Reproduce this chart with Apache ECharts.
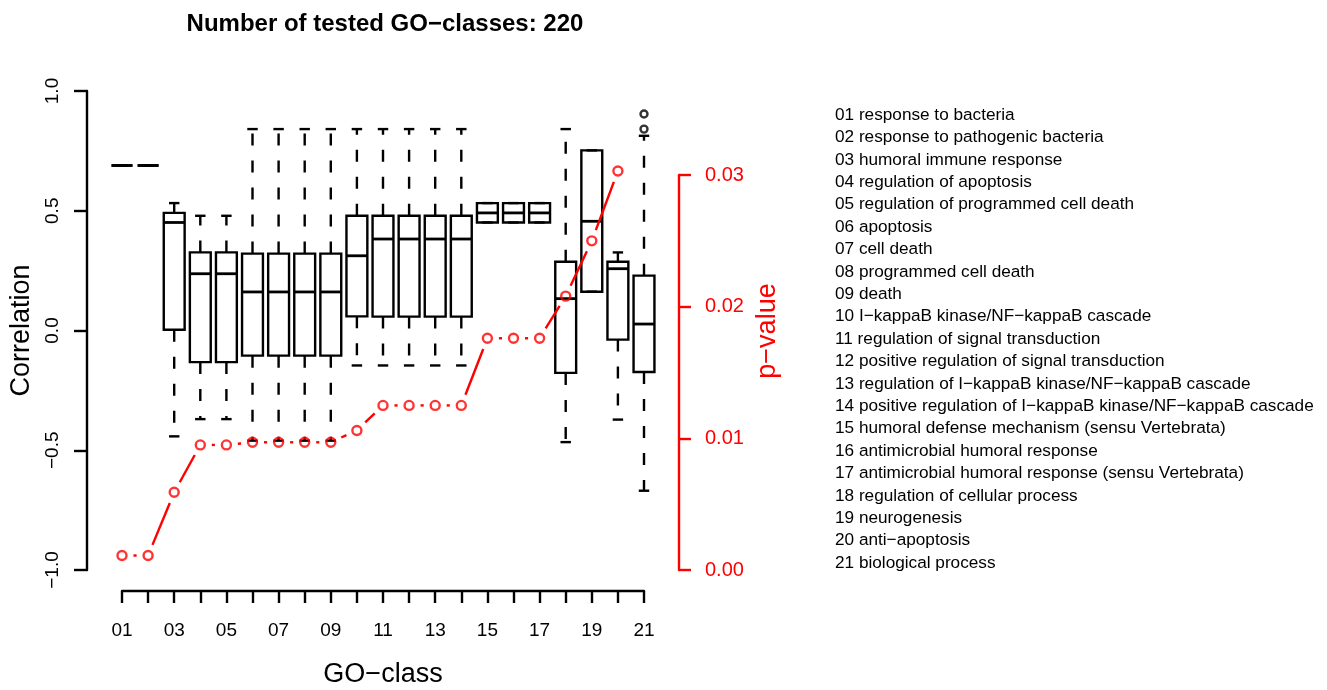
<!DOCTYPE html>
<html>
<head>
<meta charset="utf-8">
<script src="https://cdn.jsdelivr.net/npm/echarts@6/dist/echarts.min.js"></script>
<style>
html,body{margin:0;padding:0;background:#fff;}
#main{width:1327px;height:690px;}
</style>
</head>
<body>
<div id="main"></div>
<script>
// ---- data ----
const categories = ['01','02','03','04','05','06','07','08','09','10','11','12','13','14','15','16','17','18','19','20','21'];
const corrMin    = [0.689, 0.689, -0.442, -0.370, -0.370, -0.460, -0.460, -0.460, -0.460, -0.146, -0.146, -0.146, -0.146, -0.146, 0.451, 0.451, 0.451, -0.466, 0.162, -0.372, -0.669];
const corrQ1     = [0.689, 0.689,  0.003, -0.132, -0.132, -0.105, -0.105, -0.105, -0.105,  0.059,  0.058,  0.058,  0.058,  0.058, 0.451, 0.451, 0.451, -0.177, 0.162, -0.038, -0.173];
const corrMedian = [0.689, 0.689,  0.451,  0.237,  0.237,  0.161,  0.161,  0.161,  0.161,  0.312,  0.382,  0.382,  0.382,  0.382, 0.491, 0.491, 0.491,  0.133, 0.456,  0.258,  0.027];
const corrQ3     = [0.689, 0.689,  0.491,  0.326,  0.326,  0.321,  0.321,  0.321,  0.321,  0.479,  0.479,  0.479,  0.479,  0.479, 0.532, 0.532, 0.532,  0.287, 0.752,  0.287,  0.229];
const corrMax    = [0.689, 0.689,  0.532,  0.479,  0.479,  0.841,  0.841,  0.841,  0.841,  0.841,  0.841,  0.841,  0.841,  0.841, 0.532, 0.532, 0.532,  0.841, 0.752,  0.326,  0.813];
const outlierCats   = ['21', '21'];
const outlierValues = [0.904, 0.841];
const pValues = [0.0011, 0.0011, 0.0059, 0.0095, 0.0095, 0.0097, 0.0097, 0.0097, 0.0097, 0.0106, 0.0125, 0.0125, 0.0125, 0.0125, 0.0176, 0.0176, 0.0176, 0.0208, 0.0250, 0.0303, null];
const corrTicks = [-1.0, -0.5, 0.0, 0.5, 1.0];
const pTicks = [0.00, 0.01, 0.02, 0.03];
const goNames = [
 'response to bacteria',
 'response to pathogenic bacteria',
 'humoral immune response',
 'regulation of apoptosis',
 'regulation of programmed cell death',
 'apoptosis',
 'cell death',
 'programmed cell death',
 'death',
 'I\u2212kappaB kinase/NF\u2212kappaB cascade',
 'regulation of signal transduction',
 'positive regulation of signal transduction',
 'regulation of I\u2212kappaB kinase/NF\u2212kappaB cascade',
 'positive regulation of I\u2212kappaB kinase/NF\u2212kappaB cascade',
 'humoral defense mechanism (sensu Vertebrata)',
 'antimicrobial humoral response',
 'antimicrobial humoral response (sensu Vertebrata)',
 'regulation of cellular process',
 'neurogenesis',
 'anti\u2212apoptosis',
 'biological process'
];
const titleText = 'Number of tested GO\u2212classes: 220';
const pAxisTitle = 'p\u2212value';

// ---- build ----
const FONT = "'Liberation Sans', Arial, Helvetica, sans-serif";
const RED = '#ff0000';
const LW = 2.4;
const boxData = categories.map((c, i) => [i, corrMin[i], corrQ1[i], corrMedian[i], corrQ3[i], corrMax[i]]);
const outlierData = outlierCats.map((c, i) => [categories.indexOf(c), outlierValues[i]]);
const pPoints = [];
pValues.forEach((v, i) => { if (v !== null) pPoints.push([i, v]); });
const pSegs = [];
for (let i = 0; i < pValues.length - 1; i++) {
  if (pValues[i] !== null && pValues[i + 1] !== null) pSegs.push([i, pValues[i], pValues[i + 1]]);
}
const fmtMinus = s => s.replace('-', '\u2212');

function renderBox(params, api) {
  const idx = api.value(0);
  const mn = api.value(1), q1 = api.value(2), md = api.value(3), q3 = api.value(4), mx = api.value(5);
  const step = Math.abs(api.coord([1, 0])[0] - api.coord([0, 0])[0]);
  const hw = step * 0.4, chw = hw * 0.5;
  const x = api.coord([idx, md])[0];
  const yMn = api.coord([idx, mn])[1], yQ1 = api.coord([idx, q1])[1], yMd = api.coord([idx, md])[1];
  const yQ3 = api.coord([idx, q3])[1], yMx = api.coord([idx, mx])[1];
  const dashed = { stroke: '#000', lineWidth: LW, lineDash: [12, 15], fill: null };
  const solid = { stroke: '#000', lineWidth: LW, fill: null };
  const ch = [];
  if (yMx < yQ3 - 0.5) ch.push({ type: 'line', shape: { x1: x, y1: yQ3, x2: x, y2: yMx }, style: dashed });
  if (yMn > yQ1 + 0.5) ch.push({ type: 'line', shape: { x1: x, y1: yQ1, x2: x, y2: yMn }, style: dashed });
  ch.push({ type: 'line', shape: { x1: x - chw, y1: yMx, x2: x + chw, y2: yMx }, style: solid });
  ch.push({ type: 'line', shape: { x1: x - chw, y1: yMn, x2: x + chw, y2: yMn }, style: solid });
  ch.push({ type: 'rect', shape: { x: x - hw, y: yQ3, width: 2 * hw, height: yQ1 - yQ3 }, style: solid });
  ch.push({ type: 'line', shape: { x1: x - hw, y1: yMd, x2: x + hw, y2: yMd }, style: { stroke: '#000', lineWidth: 2.8 } });
  return { type: 'group', children: ch };
}

function renderSeg(params, api) {
  const i = api.value(0);
  const a = api.coord([i, api.value(1)]);
  const b = api.coord([i + 1, api.value(2)]);
  const dx = b[0] - a[0], dy = b[1] - a[1];
  const len = Math.sqrt(dx * dx + dy * dy);
  const gap = 11.5;
  if (len <= 2 * gap) return null;
  const ux = dx / len, uy = dy / len;
  return {
    type: 'line',
    shape: { x1: a[0] + ux * gap, y1: a[1] + uy * gap, x2: b[0] - ux * gap, y2: b[1] - uy * gap },
    style: { stroke: RED, lineWidth: LW }
  };
}

const graphics = goNames.map((n, i) => ({
  type: 'text',
  x: 835,
  y: 115 + i * 22.4,
  style: { text: categories[i] + ' ' + n, font: '17.2px ' + FONT, fill: '#000', align: 'left', verticalAlign: 'middle' }
}));
graphics.push({
  type: 'text', x: 768, y: 331, rotation: Math.PI / 2,
  style: { text: pAxisTitle, font: '27px ' + FONT, fill: RED, align: 'center', verticalAlign: 'middle' }
});

const chart = echarts.init(document.getElementById('main'), null, { renderer: 'canvas' });
chart.setOption({
  animation: false,
  backgroundColor: '#fff',
  textStyle: { fontFamily: FONT },
  title: {
    text: titleText,
    left: 380, top: 7, textAlign: 'center',
    textStyle: { fontFamily: FONT, fontWeight: 'bold', fontSize: 24, color: '#000' }
  },
  graphic: graphics,
  grid: [
    { left: 122, right: 683, top: 91, bottom: 120, outerBoundsMode: 'none', containLabel: false },
    { left: 122, right: 683, top: 175, bottom: 120, outerBoundsMode: 'none', containLabel: false }
  ],
  xAxis: [
    {
      type: 'category', gridIndex: 0, data: categories, boundaryGap: false, offset: 21,
      axisLine: { onZero: false, lineStyle: { color: '#000', width: LW } },
      axisTick: { interval: 0, length: 12, lineStyle: { color: '#000', width: LW } },
      axisLabel: { interval: 1, color: '#000', fontSize: 19, margin: 30, fontFamily: FONT },
      splitLine: { show: false },
      name: 'GO\u2212class', nameLocation: 'middle', nameGap: 70,
      nameTextStyle: { fontSize: 27, color: '#000', fontFamily: FONT }
    },
    { type: 'category', gridIndex: 1, data: categories, boundaryGap: false, show: false }
  ],
  yAxis: [
    {
      type: 'value', gridIndex: 0, position: 'left', offset: 35, min: corrTicks[0], max: corrTicks[corrTicks.length - 1], interval: 0.5,
      axisLine: { show: true, onZero: false, lineStyle: { color: '#000', width: LW } },
      axisTick: { show: true, length: 13, lineStyle: { color: '#000', width: LW } },
      axisLabel: { rotate: 90, color: '#000', fontSize: 19, margin: 25, fontFamily: FONT, formatter: v => fmtMinus(v.toFixed(1)) },
      splitLine: { show: false },
      name: 'Correlation', nameLocation: 'middle', nameRotate: 90, nameGap: 52,
      nameTextStyle: { fontSize: 27, color: '#000', fontFamily: FONT }
    },
    {
      type: 'value', gridIndex: 1, position: 'right', offset: 35, min: pTicks[0], max: pTicks[pTicks.length - 1], interval: 0.01,
      axisLine: { show: true, onZero: false, lineStyle: { color: RED, width: LW } },
      axisTick: { show: true, length: 12, lineStyle: { color: RED, width: LW } },
      axisLabel: { color: RED, fontSize: 20, margin: 26, fontFamily: FONT, formatter: v => v.toFixed(2) },
      splitLine: { show: false }
    }
  ],
  series: [
    {
      type: 'custom', name: 'box', xAxisIndex: 0, yAxisIndex: 0, data: boxData,
      renderItem: renderBox, encode: { x: 0, y: [1, 2, 3, 4, 5] }, z: 2, clip: false
    },
    {
      type: 'scatter', name: 'outliers', xAxisIndex: 0, yAxisIndex: 0, data: outlierData,
      symbol: 'circle', symbolSize: 7, clip: false,
      itemStyle: { color: 'rgba(255,255,255,0)', borderColor: '#000', borderWidth: LW }, z: 3
    },
    {
      type: 'custom', name: 'pline', xAxisIndex: 1, yAxisIndex: 1, data: pSegs,
      renderItem: renderSeg, encode: { x: 0, y: [1, 2] }, z: 4, clip: false
    },
    {
      type: 'scatter', name: 'pvalue', xAxisIndex: 1, yAxisIndex: 1, data: pPoints,
      symbol: 'circle', symbolSize: 9, clip: false,
      itemStyle: { color: 'rgba(255,255,255,0)', borderColor: RED, borderWidth: LW }, z: 5
    }
  ]
});
</script>
</body>
</html>
